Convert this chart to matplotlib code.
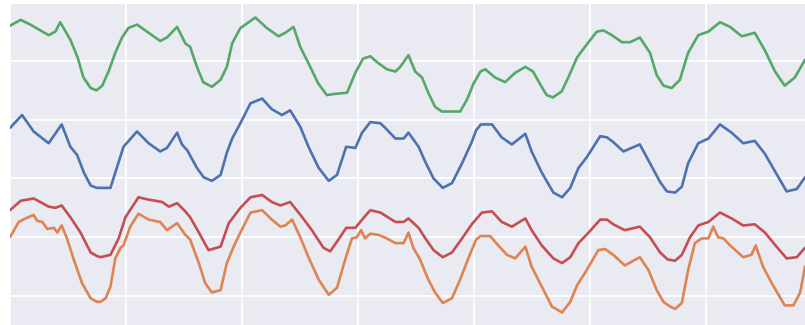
import matplotlib
matplotlib.use("Agg")
import matplotlib.pyplot as plt
import seaborn as sns

sns.set_theme(style="darkgrid")
pal = sns.color_palette("deep")

# hourly readings over one week, four stations
hours_b = [0, 2.5, 4.9, 8.0, 10.7, 12.5, 13.9, 15.3, 16.7, 18.0, 20.8, 21.8, 23.5, 26.3, 28.7, 31.1,
           32.5, 34.6, 35.6, 36.7, 38.7, 40.1, 41.8, 43.6, 44.9, 46.0, 47.7, 49.8, 52.2, 54.2, 56.3,
           58.0, 60.1, 61.8, 63.9, 66.0, 67.7, 69.6, 71.5, 72.9, 74.6, 76.7, 77.7, 79.8, 81.5, 82.5,
           84.6, 86.0, 87.7, 89.6, 91.5, 93.6, 95.6, 96.5, 97.5, 99.8, 101.8, 103.9, 106.7, 108.0,
           110.1, 112.5, 114.3, 116.0, 117.7, 119.4, 122.2, 123.6, 124.9, 127.0, 128.7, 130.4, 132.5,
           134.6, 136.0, 137.7, 139.1, 140.4, 142.5, 144.6, 147.0, 149.4, 151.8, 154.2, 156.3, 158.4,
           160.8, 162.9, 164.6]
blue = [14.3, 15.4, 14.0, 13.0, 14.6, 12.7, 12.0, 10.5, 9.4, 9.2, 9.2, 10.5, 12.7, 14.0, 13.0, 12.3,
        12.6, 13.9, 12.9, 12.4, 10.9, 10.1, 9.8, 10.3, 12.2, 13.4, 14.7, 16.4, 16.8, 15.9, 15.4,
        15.8, 14.4, 12.7, 10.9, 9.8, 10.3, 12.7, 12.6, 13.9, 14.8, 14.7, 14.3, 13.4, 13.4, 13.9,
        12.7, 11.4, 10.0, 9.2, 9.6, 11.3, 13.1, 14.1, 14.6, 14.6, 13.5, 12.9, 13.8, 12.3,
        10.5, 8.8, 8.4, 9.2, 10.9, 11.8, 13.6, 13.5, 13.1, 12.3, 12.6, 12.9, 11.3,
        9.7, 8.9, 8.8, 9.3, 11.3, 13.0, 13.4, 14.6, 13.9, 13.0, 13.2, 12.1, 10.6,
        8.9, 9.1, 10.1]

hours_o = [0, 1.8, 3.2, 4.9, 5.6, 6.7, 7.7, 9.1, 9.8, 10.7, 11.8, 13.2, 14.9, 16.7, 18.0, 18.7, 19.8,
           20.8, 21.8, 22.9, 23.5, 24.9, 26.6, 28.7, 31.1, 32.5, 34.6, 36.3, 37.3, 39.1, 40.4, 41.8,
           43.6, 44.9, 46.3, 47.7, 49.8, 52.2, 54.2, 56.0, 57.0, 58.4, 60.1, 61.8, 63.9, 66.0, 67.7,
           69.4, 70.8, 71.8, 72.7, 73.5, 74.6, 76.3, 78.0, 79.8, 81.5, 82.5, 83.5, 84.9, 86.6, 88.0,
           89.6, 91.5, 93.2, 94.9, 96.5, 97.4, 99.4, 101.1, 102.9, 104.6, 106.7, 108.0, 110.1, 112.2,
           114.3, 116.0, 117.4, 119.4, 121.8, 123.2, 124.9, 127.3, 130.4, 132.2, 133.9, 135.3, 136.7,
           137.7, 139.1, 140.4, 141.8, 143.2, 144.6, 145.6, 146.6, 147.7, 149.1, 151.8, 153.5, 154.4,
           155.9, 157.7, 160.4, 162.2, 163.6, 164.6]
orange = [5.0, 6.3, 6.6, 6.9, 6.4, 6.3, 5.7, 5.8, 5.4, 6.0, 4.9, 3.1, 1.1, -0.2, -0.5, -0.5, -0.2,
          0.8, 3.2, 4.1, 4.3, 5.9, 7.0, 6.5, 6.3, 5.6, 6.2, 5.2, 4.8, 2.8, 1.1, 0.3,
          0.5, 2.8, 4.2, 5.4, 7.1, 7.3, 6.5, 5.9, 6.0, 6.5, 5.0, 3.3, 1.4, 0.1, 0.7,
          3.1, 4.9, 5.0, 5.6, 4.9, 5.3, 5.2, 4.9, 4.5, 4.5, 5.4, 4.1, 3.1, 1.4, 0.3,
          -0.6, -0.2, 1.4, 3.2, 4.8, 5.1, 5.1, 4.3, 3.5, 3.2, 4.2, 2.5, 0.8, -0.9,
          -1.4, -0.5, 0.9, 2.2, 3.9, 4.0, 3.5, 2.6, 3.3, 2.2, 0.5, -0.5, -0.9,
          -1.1, -0.6, 2.2, 4.5, 4.9, 4.9, 5.9, 5.0, 4.9, 4.3, 3.3, 3.5, 4.3,
          2.5, 1.1, -0.8, -0.8, 0.3, 2.5]

hours_g = [0, 2.2, 4.2, 6.3, 8.0, 9.4, 10.4, 12.5, 14.0, 15.2, 16.7, 17.9, 19.1, 20.4, 21.8, 23.2,
           24.5, 26.3, 28.7, 31.1, 32.5, 34.6, 36.3, 37.3, 38.7, 40.0, 41.8, 43.6, 44.9, 46.0, 47.7,
           50.8, 53.2, 55.6, 57.0, 58.7, 60.1, 61.8, 63.8, 65.6, 67.3, 69.8, 71.5, 73.1, 74.6, 76.0,
           78.0, 79.8, 80.8, 82.5, 83.9, 85.3, 86.6, 88.0, 89.4, 91.1, 93.2, 94.6, 96.0, 97.4, 98.4,
           100.4, 102.5, 104.6, 106.7, 108.3, 109.8, 111.1, 112.4, 114.2, 115.6, 117.4, 119.4, 121.5,
           122.9, 124.6, 126.7, 128.4, 130.4, 132.5, 133.9, 135.3, 137.0, 138.7, 140.4, 142.5, 144.6,
           147.0, 149.1, 151.5, 154.2, 156.3, 158.4, 160.4, 162.5, 164.6]
green = [23.0, 23.5, 23.1, 22.6, 22.2, 22.5, 23.3, 21.8, 20.3, 18.6, 17.7, 17.5, 17.9, 19.1, 20.7, 22.0,
         22.8, 23.1, 22.4, 21.7, 22.0, 22.9, 21.5, 21.2, 19.5, 18.2, 17.8, 18.4, 19.5, 21.5, 22.8,
         23.7, 22.8, 22.1, 22.4, 22.9, 21.2, 19.8, 18.1, 17.1, 17.2, 17.3, 19.0, 20.2, 20.4, 19.9,
         19.3, 19.1, 19.5, 20.5, 19.1, 18.6, 17.3, 16.1, 15.7, 15.7, 15.7, 16.7, 18.1, 19.1, 19.3,
         18.6, 18.2, 19.0, 19.5, 19.1, 18.0, 17.1, 16.9, 17.4, 18.6, 20.3, 21.4, 22.5,
         22.6, 22.2, 21.6, 21.6, 22.0, 20.7, 18.8, 17.9, 17.7, 18.4, 20.7, 22.2, 22.5,
         23.3, 22.9, 22.1, 22.4, 20.9, 19.1, 17.9, 18.6, 20.1]

hours_r = [0, 2.2, 4.9, 6.7, 8.0, 9.4, 10.7, 12.5, 14.6, 16.7, 18.0, 18.7, 20.8, 22.5, 23.9, 26.6,
           28.7, 31.5, 32.9, 34.6, 36.3, 37.3, 39.1, 41.1, 43.6, 45.3, 47.7, 49.8, 52.2, 54.2, 56.0,
           58.0, 60.5, 62.5, 64.9, 66.3, 68.0, 69.6, 71.5, 72.9, 74.6, 76.7, 79.8, 81.5, 82.5, 84.6,
           86.0, 87.7, 89.6, 91.5, 93.6, 95.6, 97.7, 99.8, 101.8, 103.9, 106.7, 108.0, 110.1, 112.5,
           114.3, 116.0, 117.7, 119.8, 122.2, 123.6, 124.9, 127.3, 130.4, 132.5, 134.6, 136.2, 137.7,
           139.1, 140.8, 142.5, 144.6, 147.0, 149.4, 151.8, 154.2, 156.3, 158.7, 160.8, 162.9, 164.6]
red = [7.3, 8.1, 8.3, 7.9, 7.6, 7.5, 7.7, 6.7, 5.4, 3.7, 3.4, 3.3, 3.5, 4.9, 6.7, 8.4,
       8.2, 8.0, 7.6, 7.9, 7.2, 6.7, 5.4, 3.9, 4.2, 6.2, 7.5, 8.4, 8.6, 8.0, 7.7,
       8.0, 6.7, 5.6, 4.1, 3.8, 4.8, 5.8, 5.8, 6.5, 7.3, 7.1, 6.3, 6.3, 6.6, 5.8,
       4.9, 3.9, 3.3, 3.7, 4.9, 6.1, 7.1, 7.2, 6.3, 5.9, 6.6, 5.6, 4.3, 3.2,
       2.8, 3.3, 4.5, 5.4, 6.5, 6.5, 6.1, 5.6, 5.9, 5.0, 3.7, 3.1, 3.0,
       3.5, 5.0, 6.0, 6.3, 7.1, 6.6, 6.0, 6.1, 5.4, 4.2, 3.2, 3.3, 4.1]

fig = plt.figure(figsize=(8.05, 3.25), dpi=100)
ax = fig.add_axes([10 / 805, 0, 1 - 10 / 805, 1 - 4 / 325])

style = dict(lw=1.9, solid_joinstyle="round", solid_capstyle="round")
ax.plot(hours_b, blue, color=pal[0], **style)
ax.plot(hours_o, orange, color=pal[1], **style)
ax.plot(hours_g, green, color=pal[2], **style)
ax.plot(hours_r, red, color=pal[3], **style)

ax.set_xlim(0, 164.6)
ax.set_ylim(-2.47, 24.85)
ax.set_xticks(range(0, 168, 24))
ax.set_yticks([0, 5, 10, 15, 20])
ax.grid(lw=1.3)
ax.tick_params(labelbottom=False, labelleft=False, length=0)
for s in ax.spines.values():
    s.set_visible(False)

fig.savefig("out.png", dpi=100)
